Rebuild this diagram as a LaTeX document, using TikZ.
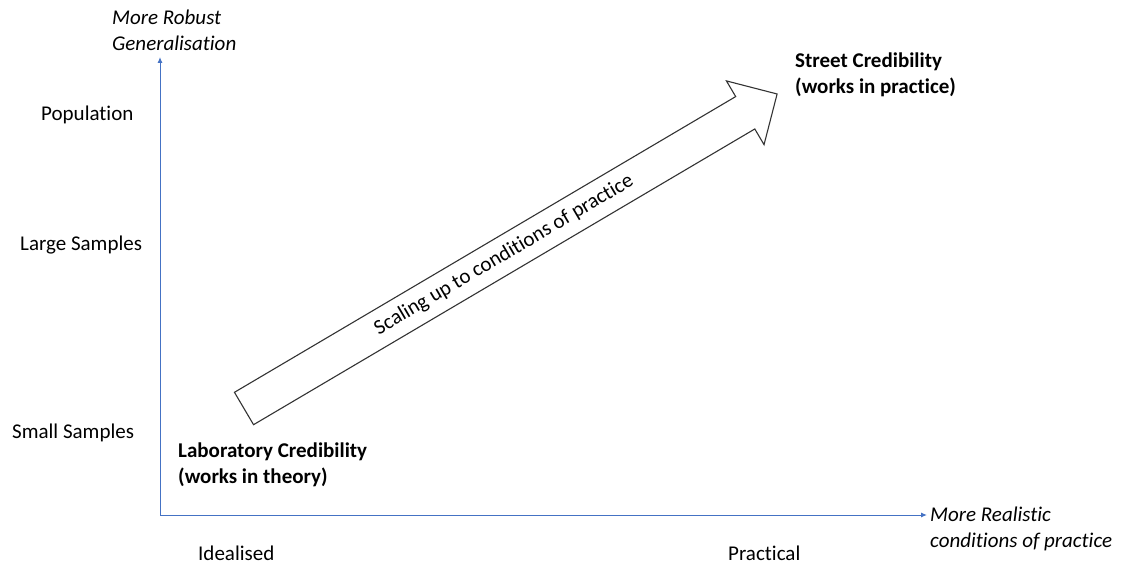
\documentclass[tikz,border=0pt]{standalone}
\usepackage{fontspec}
\setmainfont[Ligatures=NoCommon]{Carlito}
\usetikzlibrary{arrows.meta}
\definecolor{axisblue}{HTML}{4472C4}
\begin{document}
\begin{tikzpicture}[x=1pt,y=1pt,
  lbl/.style={anchor=west,inner sep=0pt,align=left,font=\fontsize{21}{26}\selectfont},
  axislbl/.style={lbl,font=\fontsize{21}{26}\selectfont\itshape},
  credlbl/.style={lbl,font=\fontsize{21}{26}\selectfont\bfseries},
  axisline/.style={draw=axisblue,line width=1pt,-{Latex[length=6pt,width=5pt]}},
  bigarrow/.style={draw=black!80,line width=1.1pt,fill=white,line join=miter}]
\useasboundingbox (0,0) rectangle (1128,566);

% axes
\coordinate (O) at (160,51);
\coordinate (ytop) at (160,509);
\coordinate (xend) at (927,51);
\draw[axisline] (O) -- (ytop);
\draw[axisline] (O) -- (xend);

% axis titles
\node[axislbl] (ytitle) at (112,535.5) {More Robust\\Generalisation};
\node[axislbl] (xtitle) at (930,37.5) {More Realistic\\conditions of practice};

% y-axis levels
\node[lbl] (pop) at (41,451) {Population};
\node[lbl] (large) at (20,321) {Large Samples};
\node[lbl] (small) at (12,133) {Small Samples};

% x-axis levels
\node[lbl] (ideal) at (198,13) {Idealised};
\node[lbl] (pract) at (728,13) {Practical};

% scaling-up arrow
\begin{scope}[shift={(244,157.5)},rotate=30.54]
  \draw[bigarrow] (0,-18.8) -- (582,-18.8) -- (582,-37) -- (619,0)
    -- (582,37) -- (582,18.8) -- (0,18.8) -- cycle;
  \node[inner sep=0pt,rotate=30.54,font=\fontsize{21}{26}\selectfont] (scaling) at (302,0)
    {Scaling up to conditions of practice};
\end{scope}

% credibility labels
\node[credlbl] (lab) at (178,101.5) {Laboratory Credibility\\(works in theory)};
\node[credlbl] (street) at (795,491.5) {Street Credibility\\(works in practice)};
\end{tikzpicture}
\end{document}
